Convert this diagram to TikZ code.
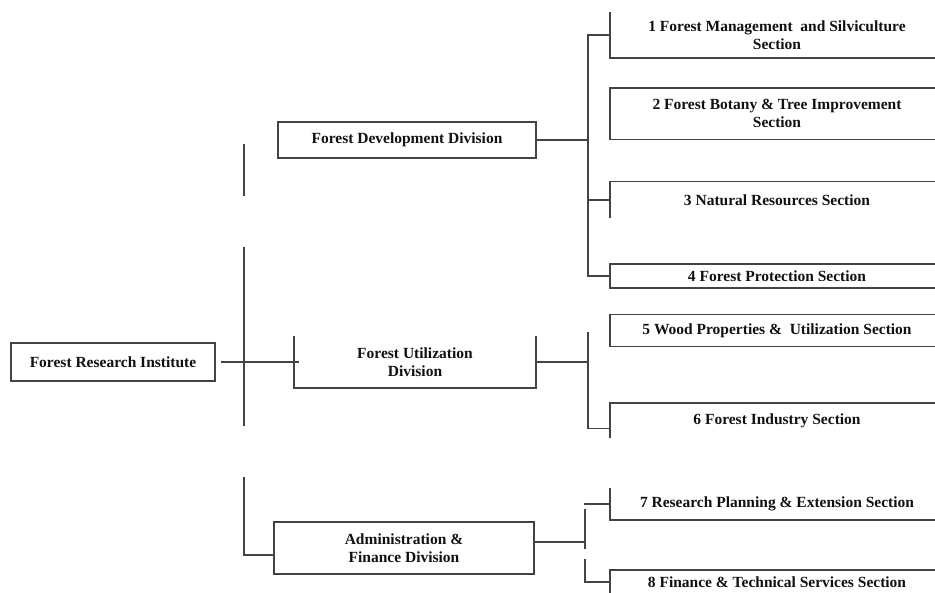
\documentclass[tikz,border=0pt]{standalone}
\usepackage{fontspec}
\setmainfont{Liberation Serif}
\usetikzlibrary{positioning}
\definecolor{ink}{HTML}{111111}
\definecolor{rule}{HTML}{444444}
\tikzset{
  wire/.style={draw=rule,line width=1.6pt},
  unit/.style={rectangle,inner sep=0pt,align=center,text=ink,
               font=\fontsize{15.5}{18}\selectfont\bfseries},
  framed/.style={unit,draw=rule,line width=1.6pt},
  sect/.style={unit,minimum width=334pt},
}

\begin{document}
\begin{tikzpicture}[x=1pt,y=-1pt]
    \useasboundingbox (0,0) rectangle (935,593);
    \node[framed,minimum width=204pt,minimum height=38pt] (fri) at (113,362)
      {Forest Research Institute};
    \node[framed,minimum width=258pt,minimum height=36pt] (dev) at (407,140)
      {Forest Development Division};
    \node[unit,minimum width=242pt,minimum height=52pt] (util) at (415,362)
      {Forest Utilization\\Division};
    \node[framed,minimum width=260pt,minimum height=52pt] (admin) at (404,548)
      {Administration \&\\Finance Division};
    \node[sect,minimum height=46pt] (s1) at (777,35)
      {1 Forest Management \ and Silviculture\\Section};
    \node[sect,minimum height=51pt,below=30pt of s1] (s2)
      {2 Forest Botany \& Tree Improvement\\Section};
    \node[sect,minimum height=36pt,below=42pt of s2] (s3)
      {3 Natural Resources Section};
    \node[sect,framed,minimum height=24pt,below=45pt of s3] (s4)
      {4 Forest Protection Section};
    \node[sect,framed,minimum height=32pt,below=25pt of s4] (s5)
      {5 Wood Properties \& \ Utilization Section};
    \node[sect,minimum height=34pt,below=56pt of s5] (s6)
      {6 Forest Industry Section};
    \node[sect,minimum height=32pt,below=50pt of s6] (s7)
      {7 Research Planning \& Extension Section};
    \node[sect,minimum height=24pt,below=50pt of s7] (s8)
      {8 Finance \& Technical Services Section};
    \coordinate (spineA) at (244,144);
    \coordinate (spineB) at (244,196);
    \coordinate (spineC) at (244,247);
    \coordinate (spineD) at (244,426);
    \coordinate (spineE) at (244,477);
    \coordinate (devbus) at (588,0);
    \coordinate (utilbus) at (588,332);
    \coordinate (adminbusA) at (585,509);
    \coordinate (adminbusB) at (585,549);
    \coordinate (adminbusC) at (585,559);
    \draw[wire] (spineA) -- (spineB);
    \draw[wire] (spineC) -- (spineD);
    \draw[wire] (spineE) |- ([yshift=-7pt]admin.west);
    \draw[wire] ([xshift=5pt]fri.east) -- ([xshift=5pt]fri.east -| util.west);
    \draw[wire] (util.north west) |- (util.south east) -- (util.north east);
    \draw[wire] (dev.east) -- (dev.east -| devbus);
    \draw[wire] (s1.west) -| (s4.west -| devbus) -- (s4.west);
    \draw[wire] (s3.west -| devbus) -- (s3.west);
    \draw[wire] (util.east) -- (util.east -| utilbus);
    \draw[wire] (utilbus) |- ([yshift=-8pt]s6.west);
    \draw[wire] ([yshift=6pt]admin.east) -- ([yshift=6pt]admin.east -| adminbusA);
    \draw[wire] (adminbusA) -- (adminbusB);
    \draw[wire] (adminbusC) |- (s8.west);
    \draw[wire] ([xshift=-1pt]s7.west -| adminbusA) -- (s7.west);
    \draw[wire] (s1.north west) |- (s1.south east);
    \draw[wire] (s2.north east) -| (s2.south west) -- (s2.south east);
    \draw[wire] (s3.north east) -| (s3.south west);
    \draw[wire] (s6.north east) -| (s6.south west);
    \draw[wire] (s7.north west) |- (s7.south east);
    \draw[wire] (s8.north east) -| ([yshift=-10pt]s8.south west);
  \end{tikzpicture}
\end{document}
